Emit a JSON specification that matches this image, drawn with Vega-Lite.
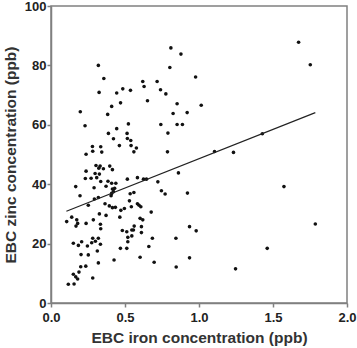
{
  "$schema": "https://vega.github.io/schema/vega-lite/v6.json",
  "width": 296,
  "height": 297,
  "autosize": {"type": "none"},
  "padding": {"left": 51, "top": 6, "right": 10, "bottom": 45},
  "background": "white",
  "config": {
    "view": {"stroke": "#808080", "strokeWidth": 1.5},
    "axis": {
      "grid": false,
      "domainColor": "#808080",
      "domainWidth": 1.5,
      "tickColor": "#808080",
      "tickWidth": 1.5,
      "tickSize": 4,
      "labelFont": "Liberation Sans",
      "labelFontSize": 13,
      "labelFontWeight": "bold",
      "labelColor": "#222222",
      "titleFont": "Liberation Sans",
      "titleFontSize": 15.5,
      "titleFontWeight": "bold",
      "titleColor": "#333333"
    }
  },
  "datasets": {
    "points": [
      {"iron": 0.32, "zinc": 80.0}, {"iron": 0.357, "zinc": 75.6}, {"iron": 0.325, "zinc": 70.9},
      {"iron": 0.444, "zinc": 70.7}, {"iron": 0.485, "zinc": 72.1}, {"iron": 0.537, "zinc": 71.6},
      {"iron": 0.47, "zinc": 67.4}, {"iron": 0.41, "zinc": 66.2}, {"iron": 0.198, "zinc": 64.4},
      {"iron": 0.383, "zinc": 63.5}, {"iron": 0.23, "zinc": 59.7}, {"iron": 0.523, "zinc": 60.3},
      {"iron": 0.444, "zinc": 58.7}, {"iron": 0.81, "zinc": 85.9}, {"iron": 0.878, "zinc": 83.8},
      {"iron": 0.803, "zinc": 79.3}, {"iron": 0.977, "zinc": 76.1}, {"iron": 0.62, "zinc": 74.6},
      {"iron": 0.717, "zinc": 74.6}, {"iron": 0.629, "zinc": 72.9}, {"iron": 0.74, "zinc": 71.8},
      {"iron": 0.776, "zinc": 70.4}, {"iron": 0.652, "zinc": 68.1}, {"iron": 0.852, "zinc": 67.1},
      {"iron": 1.015, "zinc": 66.6}, {"iron": 0.825, "zinc": 63.8}, {"iron": 0.92, "zinc": 64.1},
      {"iron": 0.742, "zinc": 60.1}, {"iron": 0.852, "zinc": 60.1}, {"iron": 0.888, "zinc": 60.1},
      {"iron": 0.388, "zinc": 57.1}, {"iron": 0.422, "zinc": 55.3}, {"iron": 0.514, "zinc": 57.1},
      {"iron": 0.516, "zinc": 55.4}, {"iron": 0.539, "zinc": 54.7}, {"iron": 0.462, "zinc": 53.0},
      {"iron": 0.541, "zinc": 53.0}, {"iron": 0.577, "zinc": 52.2}, {"iron": 0.28, "zinc": 52.7},
      {"iron": 0.336, "zinc": 52.6}, {"iron": 0.79, "zinc": 57.2}, {"iron": 0.282, "zinc": 51.1},
      {"iron": 0.343, "zinc": 50.8}, {"iron": 0.237, "zinc": 50.1}, {"iron": 0.56, "zinc": 50.9},
      {"iron": 0.787, "zinc": 50.9}, {"iron": 1.105, "zinc": 51.0}, {"iron": 1.233, "zinc": 50.7},
      {"iron": 1.428, "zinc": 57.0}, {"iron": 1.673, "zinc": 87.8}, {"iron": 1.752, "zinc": 80.2},
      {"iron": 1.574, "zinc": 39.2}, {"iron": 1.786, "zinc": 26.6}, {"iron": 1.461, "zinc": 18.4},
      {"iron": 1.247, "zinc": 11.5},
      {"iron": 0.304, "zinc": 46.3}, {"iron": 0.332, "zinc": 46.1}, {"iron": 0.323, "zinc": 45.4},
      {"iron": 0.354, "zinc": 45.2}, {"iron": 0.397, "zinc": 46.1}, {"iron": 0.415, "zinc": 44.9},
      {"iron": 0.237, "zinc": 44.4}, {"iron": 0.232, "zinc": 41.9}, {"iron": 0.271, "zinc": 42.0},
      {"iron": 0.298, "zinc": 43.6}, {"iron": 0.327, "zinc": 43.4}, {"iron": 0.336, "zinc": 40.9},
      {"iron": 0.372, "zinc": 39.3}, {"iron": 0.385, "zinc": 41.0}, {"iron": 0.41, "zinc": 40.3},
      {"iron": 0.438, "zinc": 40.3}, {"iron": 0.415, "zinc": 38.4}, {"iron": 0.43, "zinc": 38.6},
      {"iron": 0.422, "zinc": 37.5}, {"iron": 0.41, "zinc": 36.9}, {"iron": 0.406, "zinc": 36.1},
      {"iron": 0.516, "zinc": 41.7}, {"iron": 0.167, "zinc": 39.2}, {"iron": 0.291, "zinc": 38.8},
      {"iron": 0.196, "zinc": 36.1}, {"iron": 0.32, "zinc": 35.5}, {"iron": 0.293, "zinc": 35.0},
      {"iron": 0.252, "zinc": 32.9}, {"iron": 0.535, "zinc": 36.8}, {"iron": 0.56, "zinc": 37.2},
      {"iron": 0.53, "zinc": 34.4}, {"iron": 0.365, "zinc": 33.4}, {"iron": 0.394, "zinc": 32.7},
      {"iron": 0.415, "zinc": 32.1}, {"iron": 0.435, "zinc": 32.2}, {"iron": 0.472, "zinc": 31.2},
      {"iron": 0.496, "zinc": 31.8}, {"iron": 0.543, "zinc": 32.4}, {"iron": 0.584, "zinc": 42.2},
      {"iron": 0.625, "zinc": 41.7}, {"iron": 0.645, "zinc": 41.7}, {"iron": 0.861, "zinc": 43.8},
      {"iron": 0.722, "zinc": 40.8}, {"iron": 0.746, "zinc": 37.8}, {"iron": 0.771, "zinc": 36.7},
      {"iron": 0.922, "zinc": 37.0}, {"iron": 0.584, "zinc": 33.4}, {"iron": 0.595, "zinc": 32.9},
      {"iron": 0.607, "zinc": 32.4}, {"iron": 0.677, "zinc": 30.6}, {"iron": 0.327, "zinc": 30.0},
      {"iron": 0.372, "zinc": 29.5}, {"iron": 0.309, "zinc": 42.2},
      {"iron": 0.14, "zinc": 28.9}, {"iron": 0.106, "zinc": 27.4}, {"iron": 0.174, "zinc": 28.0},
      {"iron": 0.18, "zinc": 26.8}, {"iron": 0.169, "zinc": 25.9}, {"iron": 0.237, "zinc": 26.8},
      {"iron": 0.286, "zinc": 28.0}, {"iron": 0.334, "zinc": 26.5}, {"iron": 0.336, "zinc": 25.0},
      {"iron": 0.465, "zinc": 28.9}, {"iron": 0.151, "zinc": 20.1}, {"iron": 0.185, "zinc": 19.4},
      {"iron": 0.207, "zinc": 20.6}, {"iron": 0.246, "zinc": 19.2}, {"iron": 0.275, "zinc": 20.3},
      {"iron": 0.3, "zinc": 20.8}, {"iron": 0.282, "zinc": 21.8}, {"iron": 0.32, "zinc": 21.8},
      {"iron": 0.334, "zinc": 19.8}, {"iron": 0.252, "zinc": 16.2}, {"iron": 0.203, "zinc": 16.3},
      {"iron": 0.313, "zinc": 17.5}, {"iron": 0.32, "zinc": 13.5}, {"iron": 0.235, "zinc": 12.4},
      {"iron": 0.201, "zinc": 12.2}, {"iron": 0.189, "zinc": 10.4}, {"iron": 0.151, "zinc": 9.7},
      {"iron": 0.167, "zinc": 8.8}, {"iron": 0.18, "zinc": 8.1}, {"iron": 0.282, "zinc": 8.4},
      {"iron": 0.117, "zinc": 6.3}, {"iron": 0.156, "zinc": 6.4}, {"iron": 0.426, "zinc": 14.5},
      {"iron": 0.469, "zinc": 18.4}, {"iron": 0.512, "zinc": 18.4}, {"iron": 0.482, "zinc": 24.4},
      {"iron": 0.512, "zinc": 24.0}, {"iron": 0.546, "zinc": 24.6}, {"iron": 0.519, "zinc": 22.1},
      {"iron": 0.519, "zinc": 20.6}, {"iron": 0.546, "zinc": 22.6}, {"iron": 0.562, "zinc": 25.9},
      {"iron": 0.602, "zinc": 28.5}, {"iron": 0.62, "zinc": 28.0}, {"iron": 0.611, "zinc": 25.7},
      {"iron": 0.611, "zinc": 23.7}, {"iron": 0.685, "zinc": 21.8}, {"iron": 0.844, "zinc": 21.8},
      {"iron": 0.936, "zinc": 25.7}, {"iron": 0.981, "zinc": 24.3}, {"iron": 0.661, "zinc": 19.0},
      {"iron": 0.602, "zinc": 15.4}, {"iron": 0.697, "zinc": 13.7}, {"iron": 0.846, "zinc": 12.1},
      {"iron": 0.936, "zinc": 15.2}, {"iron": 0.557, "zinc": 24.6}
    ],
    "fit": [
      {"iron": 0.104, "zinc": 30.9},
      {"iron": 1.786, "zinc": 64.1}
    ]
  },
  "layer": [
    {
      "data": {"name": "points"},
      "mark": {"type": "point", "filled": true, "shape": "circle", "size": 13, "color": "#111111", "opacity": 1},
      "encoding": {
        "x": {
          "field": "iron", "type": "quantitative",
          "scale": {"domain": [0, 2], "nice": false, "zero": false},
          "axis": {"title": "EBC iron concentration (ppb)", "values": [0, 0.5, 1, 1.5, 2], "format": ".1f", "labelPadding": 4, "titlePadding": 6, "labelFlush": false}
        },
        "y": {
          "field": "zinc", "type": "quantitative",
          "scale": {"domain": [0, 100], "nice": false},
          "axis": {"title": "EBC zinc concentration (ppb)", "values": [0, 20, 40, 60, 80, 100], "labelPadding": 1, "titlePadding": 6, "labelFlush": false}
        }
      }
    },
    {
      "data": {"name": "fit"},
      "mark": {"type": "line", "color": "#222222", "strokeWidth": 1.2},
      "encoding": {
        "x": {"field": "iron", "type": "quantitative"},
        "y": {"field": "zinc", "type": "quantitative"}
      }
    }
  ]
}
